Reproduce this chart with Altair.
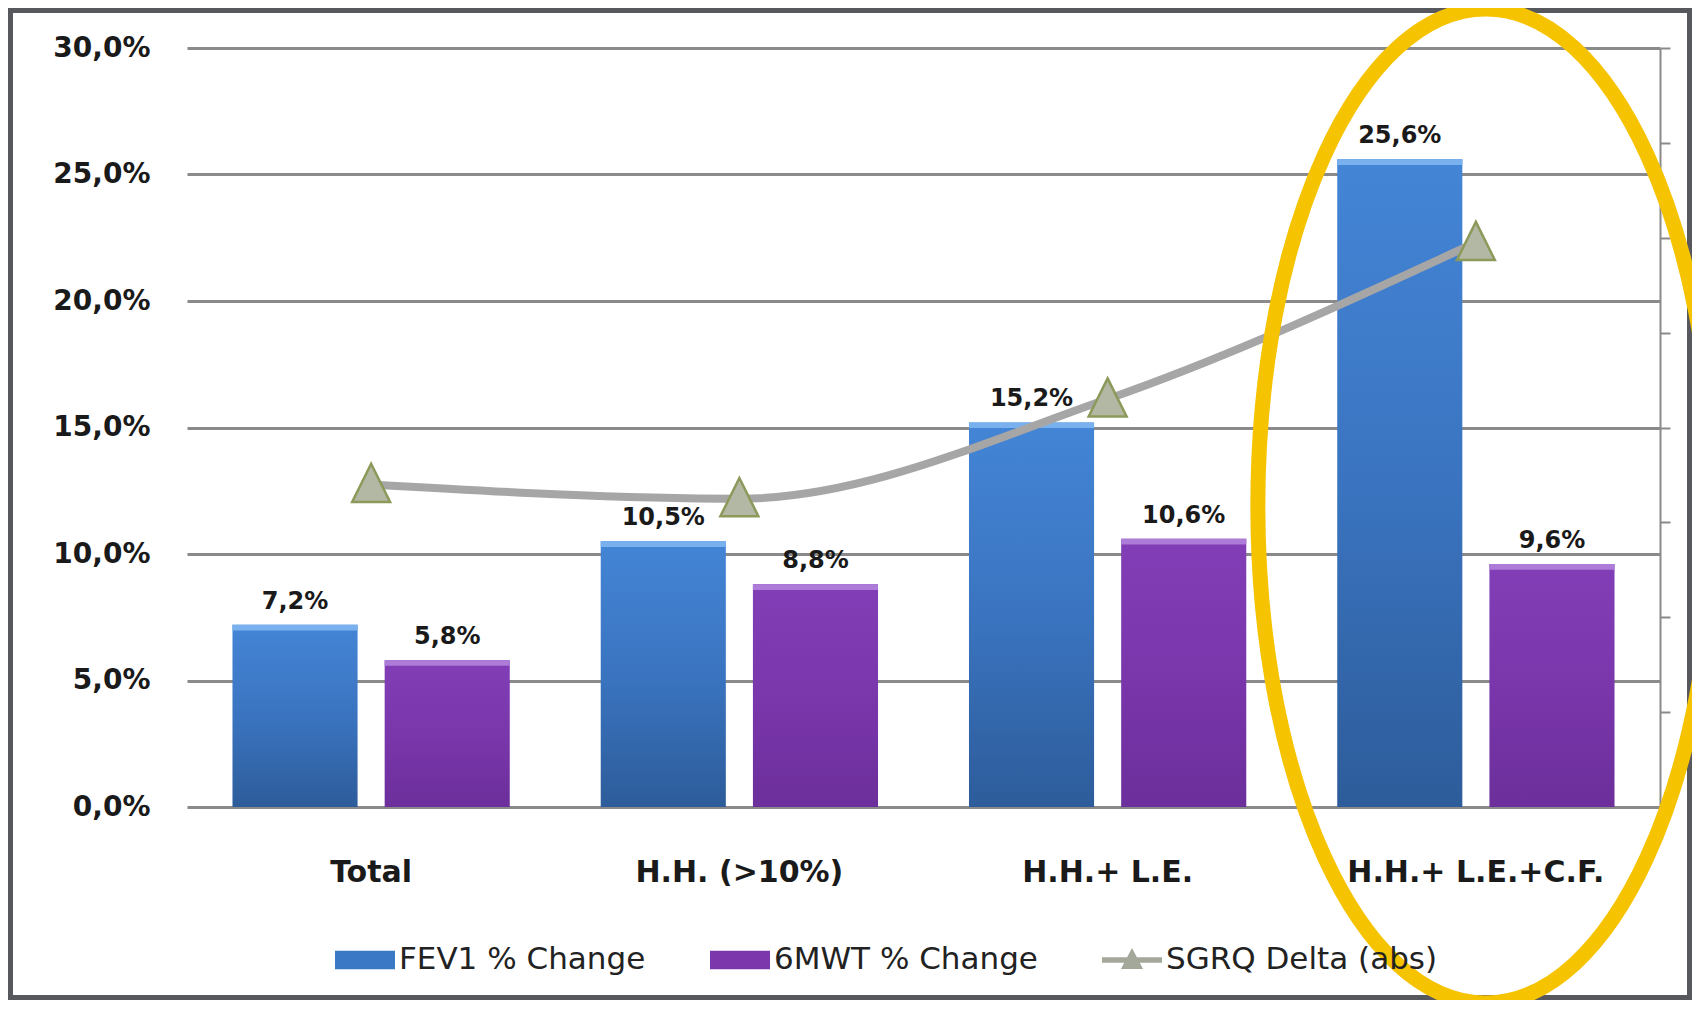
import altair as alt
import pandas as pd

# ---------------- data ----------------
categories = ["Total", "H.H. (>10%)", "H.H.+ L.E.", "H.H.+ L.E.+C.F."]
fev1 = [7.2, 10.5, 15.2, 25.6]
mwt = [5.8, 8.8, 10.6, 9.6]
sgrq = [3.4, 3.25, 4.3, 5.95]
series_names = ["FEV1 % Change", "6MWT % Change", "SGRQ Delta (abs)"]
y_ticks = [0, 5, 10, 15, 20, 25, 30]
right_ticks = [0, 1, 2, 3, 4, 5, 6, 7, 8]
highlight = [categories[3]]

bars_df = pd.DataFrame({
    "category": categories * 2,
    "series": [series_names[0]] * 4 + [series_names[1]] * 4,
    "value": fev1 + mwt,
})
line_df = pd.DataFrame({"category": categories, "sgrq": sgrq})
legend_df = pd.DataFrame({"series": series_names})
highlight_df = pd.DataFrame({"category": highlight})
frame_df = pd.DataFrame({"k": [0]})

# ---------------- layout ----------------
PLOT_W, PLOT_H = 1473, 759
PAD_L, PAD_T = 179, 40
SVG_W, SVG_H = 1684, 992
PAD = {"left": PAD_L, "top": PAD_T, "right": SVG_W - PAD_L - PLOT_W,
       "bottom": SVG_H - PAD_T - PLOT_H}

FONT = "DejaVu Sans"
BLUE, PURPLE, SGRQ_C = "#3a78c6", "#7c37ad", "#a4a89a"

RECT_SYM = "M-1,-0.31L1,-0.31L1,0.31L-1,0.31Z"
LINE_TRI = "M-1,-0.09L1,-0.09L1,0.09L-1,0.09Z M0,-0.4L0.37,0.3L-0.37,0.3Z"
TRI = "M0,-1L0.92,0.85L-0.92,0.85Z"
ELLIPSE = "M-0.4387,0A0.4587,1 0 1,1 0.4787,0A0.4587,1 0 1,1 -0.4387,0Z"

blue_grad = alt.Gradient(
    gradient="linear", x1=0, x2=0, y1=0, y2=1,
    stops=[alt.GradientStop(color="#4485d6", offset=0),
           alt.GradientStop(color="#3a74c0", offset=0.5),
           alt.GradientStop(color="#2d5c9a", offset=1)])
purple_grad = alt.Gradient(
    gradient="linear", x1=0, x2=0, y1=0, y2=1,
    stops=[alt.GradientStop(color="#823eb6", offset=0),
           alt.GradientStop(color="#7a36ab", offset=0.5),
           alt.GradientStop(color="#6c2f9b", offset=1)])

x_enc = alt.X(
    "category:N", sort=categories,
    scale=alt.Scale(domain=categories, paddingInner=0.247, paddingOuter=0.1235),
    axis=alt.Axis(title=None, domain=False, ticks=False, labelAngle=0,
                  labelFont=FONT, labelFontWeight="bold", labelFontSize=30,
                  labelColor="#1a1a1a", labelPadding=50, labelLimit=500))
x_off = alt.XOffset("series:N", sort=series_names[:2],
                    scale=alt.Scale(domain=series_names[:2], paddingInner=0.178, paddingOuter=0))
y_left = alt.Y(
    "value:Q", scale=alt.Scale(domain=[0, 30], nice=False),
    axis=alt.Axis(title=None, orient="left", values=y_ticks, domain=False, ticks=False,
                  grid=True, gridColor="#8a8a8a", gridWidth=3,
                  labelExpr="replace(format(datum.value, '.1f'), '.', ',') + '%'",
                  labelFont=FONT, labelFontWeight="bold", labelFontSize=28,
                  labelColor="#1a1a1a", labelPadding=37))
y_right = alt.Y(
    "sgrq:Q", scale=alt.Scale(domain=[0, 8], nice=False),
    axis=alt.Axis(title=None, orient="right", values=right_ticks, labels=False,
                  ticks=True, tickSize=10, tickColor="#8a8a8a", tickWidth=2,
                  domain=True, domainColor="#8a8a8a", domainWidth=2, grid=False))

base = alt.Chart(bars_df)


def bar_layers(name, grad, bevel):
    b = base.transform_filter(alt.datum.series == name)
    body = b.mark_bar(color=grad).encode(x=x_enc, xOffset=x_off, y=y_left)
    top = b.transform_calculate(lower="datum.value - 0.22").mark_bar(color=bevel).encode(
        x=x_enc, xOffset=x_off, y=y_left, y2="lower:Q")
    return [body, top]


labels = base.transform_calculate(
    label="replace(format(datum.value, '.1f'), '.', ',') + '%'"
).mark_text(font=FONT, fontWeight="bold", fontSize=24, color="#1a1a1a",
            baseline="alphabetic", dy=-16).encode(
    x=x_enc, xOffset=x_off, y=y_left, text="label:N")

left = alt.layer(*bar_layers(series_names[0], blue_grad, "#78b1ee"),
                 *bar_layers(series_names[1], purple_grad, "#ad7bd8"),
                 labels)

line = alt.Chart(line_df).mark_line(color="#a6a6a6", strokeWidth=8,
                                    interpolate="monotone").encode(x=x_enc, y=y_right)
tris = alt.Chart(line_df).mark_point(shape=TRI, size=1700, filled=True, fill="#b3b8a4",
                                     stroke="#8b9a5a", strokeWidth=2.5, opacity=1).encode(
    x=x_enc, y=y_right)

leg = alt.Legend(title=None, orient="none", legendX=148, legendY=882,
                 direction="horizontal", symbolSize=3600, symbolOpacity=1,
                 symbolStrokeWidth=0, labelFont=FONT, labelFontSize=31,
                 labelColor="#222222", labelOffset=4, columnPadding=64,
                 labelLimit=400)
legend_layer = alt.Chart(legend_df).mark_point(filled=True, opacity=0).encode(
    color=alt.Color("series:N", sort=series_names,
                    scale=alt.Scale(domain=series_names, range=[BLUE, PURPLE, SGRQ_C]),
                    legend=leg),
    shape=alt.Shape("series:N", sort=series_names,
                    scale=alt.Scale(domain=series_names, range=[RECT_SYM, RECT_SYM, LINE_TRI]),
                    legend=leg))

frame = alt.Chart(frame_df).mark_rect(fillOpacity=0, stroke="#57585d", strokeWidth=10).encode(
    x=alt.value(-PAD_L), x2=alt.value(SVG_W - PAD_L),
    y=alt.value(-PAD_T), y2=alt.value(SVG_H - PAD_T))

ellipse = alt.Chart(highlight_df).mark_point(shape=ELLIPSE, size=994 ** 2, filled=False,
                                             stroke="#f5c300", strokeWidth=15,
                                             opacity=1).encode(
    x=x_enc, y=alt.value(458))

right = alt.layer(line, tris, legend_layer, frame, ellipse)

chart = alt.layer(left, right).resolve_scale(y="independent").properties(
    width=PLOT_W, height=PLOT_H, padding=PAD,
    autosize=alt.AutoSizeParams(type="none"), background="white"
).configure_view(stroke="transparent")

chart.save("out.html", embed_options={"renderer": "svg", "actions": False})
